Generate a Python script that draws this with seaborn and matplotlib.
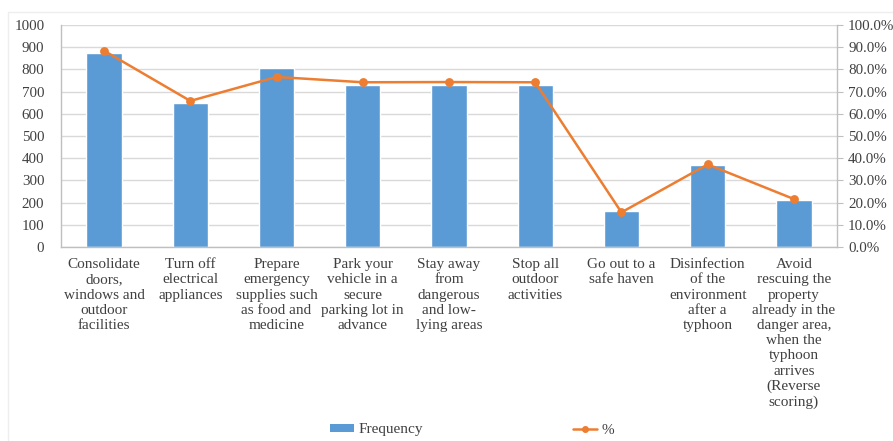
import matplotlib
matplotlib.use("Agg")
import matplotlib.pyplot as plt
from matplotlib.lines import Line2D
from matplotlib.patches import Patch
from matplotlib.ticker import MultipleLocator, PercentFormatter
import seaborn as sns
import pandas as pd

# Typhoon preparedness behaviours
categories = [
    "Consolidate\ndoors,\nwindows and\noutdoor\nfacilities",
    "Turn off\nelectrical\nappliances",
    "Prepare\nemergency\nsupplies such\nas food and\nmedicine",
    "Park your\nvehicle in a\nsecure\nparking lot in\nadvance",
    "Stay away\nfrom\ndangerous\nand low-\nlying areas",
    "Stop all\noutdoor\nactivities",
    "Go out to a\nsafe haven",
    "Disinfection\nof the\nenvironment\nafter a\ntyphoon",
    "Avoid\nrescuing the\nproperty\nalready in the\ndanger area,\nwhen the\ntyphoon\narrives\n(Reverse\nscoring)",
]
frequency = [872, 647, 805, 730, 730, 730, 163, 368, 212]
percent = [88.4, 65.8, 76.6, 74.2, 74.3, 74.2, 15.6, 37.2, 21.6]

df = pd.DataFrame({"item": categories, "Frequency": frequency, "%": percent})

BLUE = "#5B9BD5"
ORANGE = "#ED7D31"
TEXT = "#404040"
GRID = "#D9D9D9"

sns.set_theme(style="white")
plt.rcParams["font.family"] = ["Liberation Serif", "DejaVu Serif"]
plt.rcParams["text.color"] = TEXT

fig = plt.figure(figsize=(8.93, 4.41), dpi=100)
ax = fig.add_axes([61 / 893, 1 - 247 / 441, (837 - 61) / 893, (247 - 25) / 441])

sns.barplot(data=df, x="item", y="Frequency", color=BLUE, saturation=1,
            width=0.41, ax=ax, zorder=2)
ax.set_ylim(0, 1000)
ax.yaxis.set_major_locator(MultipleLocator(100))
ax.grid(axis="y", color=GRID, linewidth=1, zorder=0)
ax.set_axisbelow(True)
ax.set_xlabel("")
ax.set_ylabel("")

ax2 = ax.twinx()
sns.pointplot(data=df, x="item", y="%", color=ORANGE, markers="o",
              markersize=5, linewidth=1.8, ax=ax2)
ax2.set_ylim(0, 100)
ax2.yaxis.set_major_locator(MultipleLocator(10))
ax2.yaxis.set_major_formatter(PercentFormatter(decimals=1))
ax2.set_ylabel("")
ax2.set_xlabel("")
ax2.grid(False)

ax.set_xlim(-0.5, len(categories) - 0.5)
ax.set_xticks(range(len(categories)))
ax.set_xticklabels(categories, fontsize=11, color=TEXT, linespacing=1.22, va="top")
ax.tick_params(axis="x", length=0, pad=8)
ax.tick_params(axis="y", length=0, pad=12, labelsize=10.8, labelcolor=TEXT)
ax2.tick_params(axis="y", length=4, width=0.8, color="#BFBFBF", pad=4,
                labelsize=10.8, labelcolor=TEXT)

for a in (ax, ax2):
    a.spines["top"].set_visible(False)
    for side in ("left", "right", "bottom"):
        a.spines[side].set_color("#BFBFBF")
        a.spines[side].set_linewidth(1)
ax.spines["right"].set_visible(False)
ax2.spines["left"].set_visible(False)
ax2.spines["bottom"].set_visible(False)

# faint chart-area frame
fig.add_artist(Line2D([8 / 893, 1], [1 - 12 / 441] * 2, color="#EEEEEE", lw=1))
fig.add_artist(Line2D([8 / 893] * 2, [0, 1 - 12 / 441], color="#EEEEEE", lw=1))

handles = [
    Patch(facecolor=BLUE, edgecolor="none", label="Frequency"),
    Line2D([0], [0], color=ORANGE, lw=1.8, marker="o", markersize=4, label="%"),
]
fig.legend(handles=handles, loc="center", bbox_to_anchor=(472 / 893, 1 - 430 / 441),
           ncol=2, frameon=False, fontsize=11, columnspacing=9.8, handlelength=1.6,
           handleheight=0.45, handletextpad=0.3, labelcolor=TEXT)

fig.savefig("out.png", dpi=100, facecolor="white")
